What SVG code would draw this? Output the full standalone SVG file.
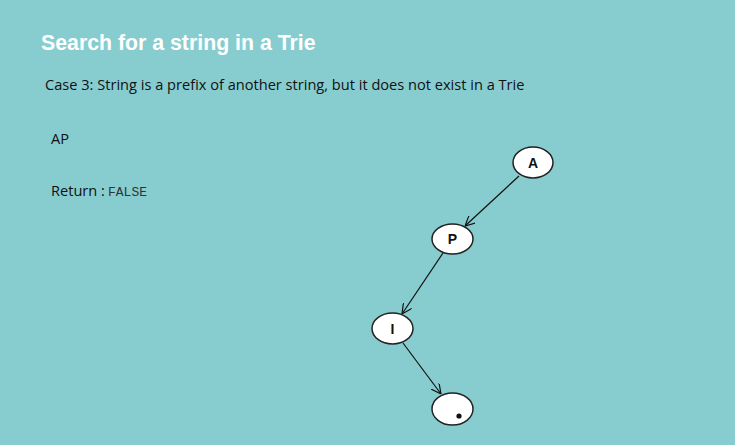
<svg xmlns="http://www.w3.org/2000/svg" width="735" height="445" viewBox="0 0 735 445">
  <defs>
    <marker id="arrow" viewBox="0 0 10 10" refX="10" refY="5" markerWidth="10" markerHeight="10" markerUnits="userSpaceOnUse" orient="auto">
      <path d="M0,0 L10,5 L0,10" fill="none" stroke="#111" stroke-width="1.2"/>
    </marker>
    <style>
      .title { font-family: "Liberation Sans", Arial, sans-serif; font-weight: bold; font-size: 21.3px; fill: #ffffff; }
      .body { font-family: "Open Sans", "DejaVu Sans", sans-serif; font-size: 14.6px; fill: #111; }
      .mono { font-family: "Liberation Mono", "Courier New", monospace; font-size: 13px; fill: #333; }
      .node ellipse { fill: #ffffff; stroke: #222; stroke-width: 1.5; }
      .node text { font-family: "Liberation Sans", Arial, sans-serif; font-weight: bold; font-size: 14px; fill: #111; text-anchor: middle; }
      .edge { stroke: #111; stroke-width: 1.2; fill: none; marker-end: url(#arrow); }
    </style>
  </defs>

  <rect width="735" height="445" fill="#87cdd0"/>

  <text class="title" x="41" y="50">Search for a string in a Trie</text>
  <text class="body" x="45" y="90">Case 3: String is a prefix of another string, but it does not exist in a Trie</text>
  <text class="body" x="51" y="144">AP</text>
  <text class="body" x="51" y="196">Return :</text>
  <text class="mono" x="108" y="196">FALSE</text>

  <g id="connectors">
    <line class="edge" x1="519" y1="176" x2="465" y2="226"/>
    <line class="edge" x1="443" y1="253" x2="402" y2="314"/>
    <line class="edge" x1="403" y1="343" x2="441" y2="394"/>
  </g>

  <g id="node-A" class="node">
    <ellipse cx="533" cy="162.5" rx="20" ry="15.5"/>
    <text x="533" y="167.5">A</text>
  </g>
  <g id="node-P" class="node">
    <ellipse cx="452.5" cy="239" rx="20.5" ry="15"/>
    <text x="452.5" y="244">P</text>
  </g>
  <g id="node-I" class="node">
    <ellipse cx="392.5" cy="328.5" rx="20.5" ry="15.5"/>
    <text x="392.5" y="333.5">I</text>
  </g>
  <g id="node-end" class="node">
    <ellipse cx="452.5" cy="409" rx="20.5" ry="16"/>
    <circle cx="459" cy="416" r="2.6" fill="#111"/>
  </g>
</svg>
